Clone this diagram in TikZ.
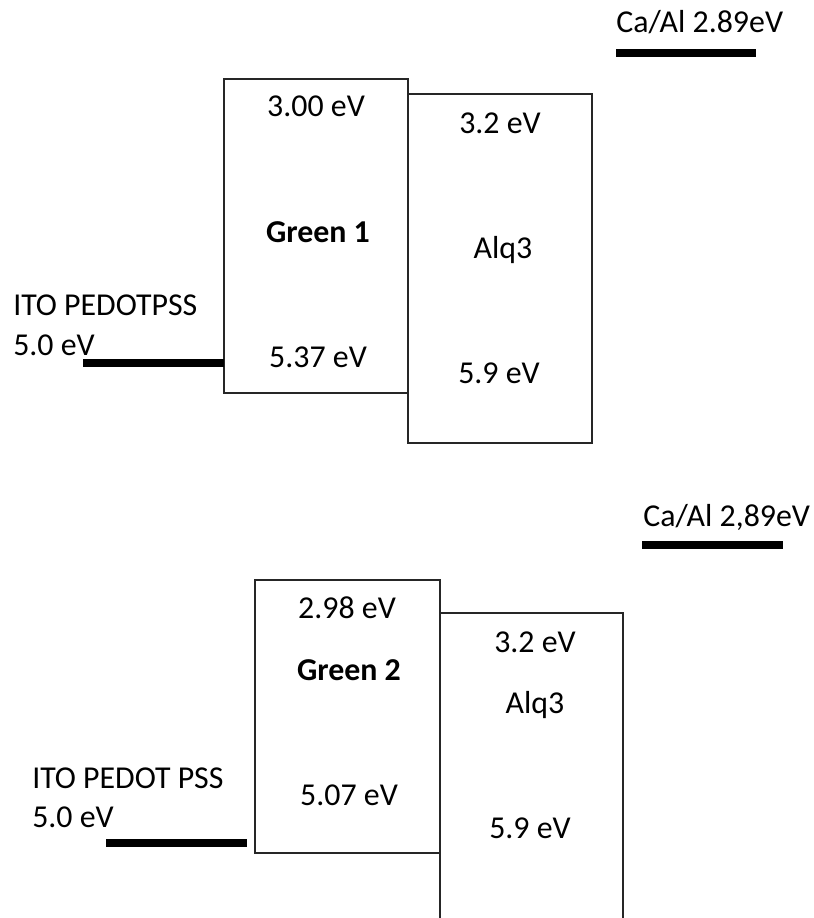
\documentclass[tikz,border=0pt]{standalone}
\usepackage{fontspec}
\setmainfont{Carlito}
\begin{document}
\begin{tikzpicture}[x=0.75pt,y=-0.75pt,
  box/.style={draw=black!85, line width=1.5pt, inner sep=0pt, outer sep=0pt, anchor=north west},
  lbl/.style={font=\fontsize{23.9}{28}\selectfont, inner sep=0pt, anchor=base},
  bold/.style={font=\fontsize{23.9}{28}\selectfont\bfseries},
  lbll/.style={lbl, anchor=base west},
  level/.style={line width=5.4pt, black}]
\useasboundingbox (0,0) rectangle (814,918);
\clip (0,0) rectangle (814,918);
% ---------- top diagram ----------
\node[box, minimum width=138.4pt, minimum height=235.9pt] (g1) at (223.5,78.5) {};
\node[box, minimum width=138pt, minimum height=261.75pt] (a1) at (408,94) {};
\node[lbl] (g1t) at (316,116) {3.00 eV};
\node[lbl, bold] (g1n) at (318,242) {Green 1};
\node[lbl] (g1b) at (318,367) {5.37 eV};
\node[lbl] (a1t) at (500,133) {3.2 eV};
\node[lbl] (a1n) at (503,258) {Alq3};
\node[lbl] (a1b) at (499,383) {5.9 eV};
\node[lbll] (cat1) at (616,32) {Ca/Al 2.89eV};
\coordinate (cat1s) at (616,53);
\coordinate (cat1e) at (756,53);
\draw[level] (cat1s) -- (cat1e);
\node[lbll] (ito1a) at (13,315) {ITO PEDOTPSS};
\node[lbll] (ito1b) at (13,355) {5.0 eV};
\coordinate (ito1s) at (83,363);
\draw[level] (ito1s) -- (ito1s -| g1.west);
% ---------- bottom diagram ----------
\node[box, minimum width=138.75pt, minimum height=204.75pt] (g2) at (255,580) {};
\node[box, minimum width=137.25pt, minimum height=260pt] (a2) at (440,613) {};
\node[lbl] (g2t) at (347,618) {2.98 eV};
\node[lbl, bold] (g2n) at (349,680) {Green 2};
\node[lbl] (g2b) at (349,805) {5.07 eV};
\node[lbl] (a2t) at (535,652) {3.2 eV};
\node[lbl] (a2n) at (535,713) {Alq3};
\node[lbl] (a2b) at (530,838) {5.9 eV};
\node[lbll] (cat2) at (643,526) {Ca/Al 2,89eV};
\coordinate (cat2s) at (642,545);
\coordinate (cat2e) at (783,545);
\draw[level] (cat2s) -- (cat2e);
\node[lbll] (ito2a) at (32,788) {ITO PEDOT PSS};
\node[lbll] (ito2b) at (32,827) {5.0 eV};
\coordinate (ito2s) at (106,843);
\coordinate (ito2e) at (247,843);
\draw[level] (ito2s) -- (ito2e);
\end{tikzpicture}
\end{document}
